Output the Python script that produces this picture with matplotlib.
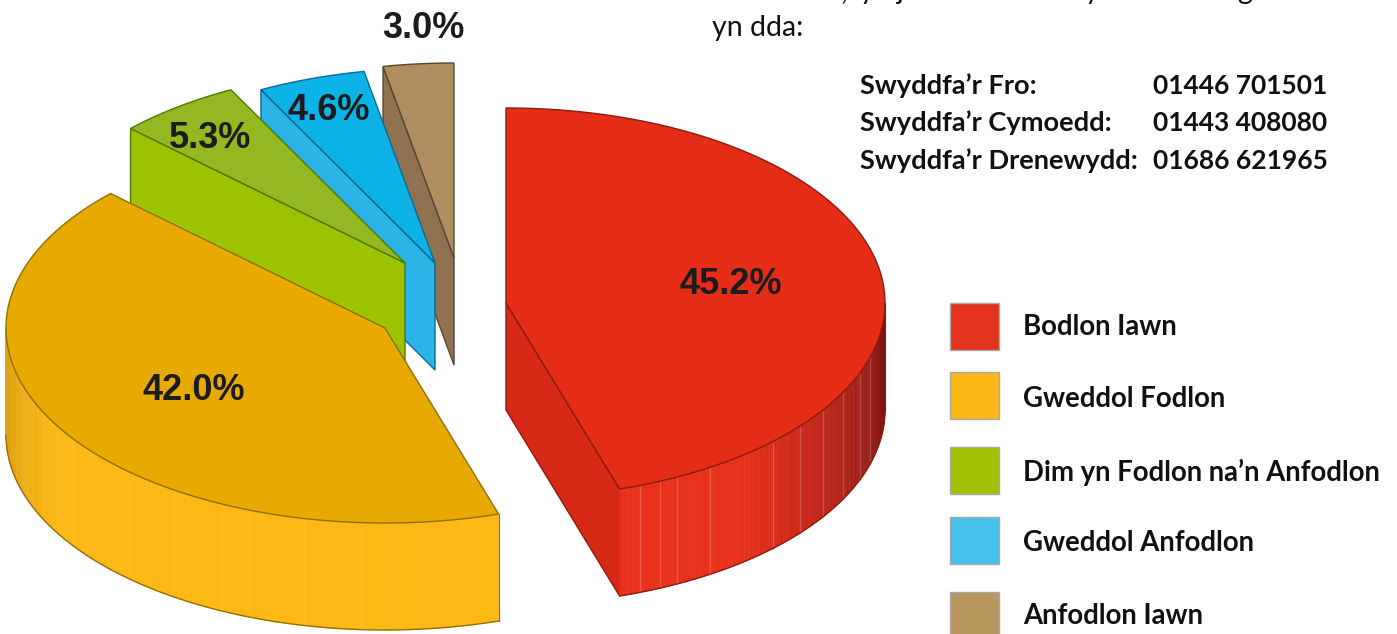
import matplotlib as mpl
mpl.use("Agg")
import matplotlib.pyplot as plt
from matplotlib.collections import PolyCollection
from matplotlib.colors import to_rgb
from matplotlib.patches import Polygon, Rectangle
import numpy as np

# data
categories = ["Bodlon Iawn", "Gweddol Fodlon", "Dim yn Fodlon na’n Anfodlon", "Gweddol Anfodlon", "Anfodlon Iawn"]
values = [45.2, 42.0, 5.3, 4.6, 3.0]
value_labels = ["45.2%", "42.0%", "5.3%", "4.6%", "3.0%"]
offices = ["Swyddfa’r Fro:", "Swyddfa’r Cymoedd:", "Swyddfa’r Drenewydd:"]
phones = ["01446 701501", "01443 408080", "01686 621965"]

# styling, everything in image pixels
W, H = 1397, 634
RX, RY, DEPTH = 379, 195, 107
centers = [(506, 303), (385, 328), (405, 263), (435, 263), (454, 258)]
label_pos = [(731, 285), (194, 390), (210, 138), (329, 111), (423, 29)]
label_size = [26, 26, 26, 26, 26]
top_colors = ["#E52D17", "#E8A900", "#93B822", "#0DB3E6", "#AE8E5F"]
side_colors = ["#E8301A", "#FDB813", "#9CC200", "#2CB4E8", "#8E7251"]
side_dark = ["#741212", "#D49C0C", "#9CC200", "#2CB4E8", "#8E7251"]
cut_colors = ["#D62A17", "#E8A900", "#9CC200", "#2CB4E8", "#8E7251"]
edge_colors = ["#8E1A10", "#8F7000", "#4F7A00", "#0A6A90", "#5A4630"]
swatch_colors = ["#E5321F", "#FBB713", "#A0C202", "#45C0EC", "#B8975F"]
swatch_y = [303, 372, 447, 517, 592]
legend_y = [327, 399, 472, 543, 616]
red_stripes = [159.3, 156, 153.2, 147.4, 135.3, 129.1, 123.3, 117.2, 110.9, 106.2]

plt.rcParams["font.family"] = "Lato"
fig = plt.figure(figsize=(W / 100, H / 100), dpi=100)
ax = fig.add_axes([0, 0, 1, 1])
ax.set_xlim(0, W)
ax.set_ylim(H, 0)
ax.axis("off")


def rim(c, deg):
    a = np.radians(deg)
    return c[0] + RX * np.sin(a), c[1] - RY * np.cos(a)


def cut_face(c, deg, color, edge, z):
    x, y = rim(c, deg)
    pts = [c, (x, y), (x, y + DEPTH), (c[0], c[1] + DEPTH)]
    ax.add_patch(Polygon(pts, closed=True, fc=color, ec=edge, lw=1, zorder=z))


cum = np.cumsum([0] + values) / sum(values) * 360

# back to front
for i in [4, 3, 2, 1, 0]:
    c = centers[i]
    start, end = cum[i], cum[i + 1]
    z = 2 * (5 - i)

    # cut faces that look towards the viewer
    if np.sin(np.radians(start)) < -0.01:
        cut_face(c, start, cut_colors[i], edge_colors[i], z)
    if np.sin(np.radians(end)) > 0.01:
        cut_face(c, end, cut_colors[i], edge_colors[i], z)

    # outer wall, only the front half shows
    lo, hi = max(start, 90), min(end, 270)
    if hi > lo:
        th = np.arange(lo, hi + 0.5, 0.5)
        th[-1] = hi
        xs, ys = rim(c, th)
        polys, cols = [], []
        bright = np.array(to_rgb(side_colors[i]))
        dark = np.array(to_rgb(side_dark[i]))
        for k in range(len(th) - 1):
            polys.append([(xs[k], ys[k]), (xs[k + 1], ys[k + 1]),
                          (xs[k + 1], ys[k + 1] + DEPTH), (xs[k], ys[k] + DEPTH)])
            mid = (th[k] + th[k + 1]) / 2
            if i == 0:
                t = np.clip((142 - mid) / 50, 0, 1)
            else:
                t = np.clip((mid - 240) / 30, 0, 1)
            cols.append(bright * (1 - t) + dark * t)
        ax.add_collection(PolyCollection(polys, facecolors=cols, edgecolors=cols, lw=0.4, zorder=z))

        # faint stripes on the wall
        stripes = red_stripes if i == 0 else np.arange(lo + 4, hi, 4.3)
        for s in stripes:
            sx, sy = rim(c, s)
            f = cols[int((s - lo) / 0.5)]
            ax.plot([sx, sx], [sy, sy + DEPTH], color=f + (1 - f) * (0.2 if i == 0 else 0.07),
                    lw=1, zorder=z, solid_capstyle="butt")
        ax.plot(xs, ys + DEPTH, color=edge_colors[i], lw=1, zorder=z)
        ax.plot([xs[0], xs[0]], [ys[0], ys[0] + DEPTH], color=edge_colors[i], lw=0.8, zorder=z)

    # top face
    th = np.linspace(start, end, 200)
    xs, ys = rim(c, th)
    pts = np.vstack([[c], np.column_stack([xs, ys])])
    ax.add_patch(Polygon(pts, closed=True, fc=top_colors[i], ec=edge_colors[i], lw=1, zorder=z + 0.5))

for i in range(5):
    ax.text(*label_pos[i], value_labels[i], family="Liberation Sans", weight="bold", fontsize=label_size[i],
            color="#1C1C1C", ha="center", va="center", zorder=30)

# legend
for i in range(5):
    ax.add_patch(Rectangle((950, swatch_y[i]), 49, 47, fc=swatch_colors[i], ec="#A8A8A8", lw=1, zorder=5))
    ax.text(1023, legend_y[i], categories[i], weight="bold", fontsize=19.8, color="#111111",
            ha="left", va="center")

# phone numbers
for yy, office, phone in zip([86, 123, 161], offices, phones):
    ax.text(860, yy, office, weight="bold", fontsize=19.6, color="#111111", ha="left", va="center")
    ax.text(1153, yy, phone, weight="bold", fontsize=19, color="#111111", ha="left", va="center")

ax.text(712, 28, "yn dda:", fontsize=20.5, color="#111111", ha="left", va="center")

# bottom of the previous line of body text, cut off by the page edge
for xx, ch in zip([844, 867, 900, 1092, 1245], [",", "y", "j", "y", "g"]):
    ax.text(xx, -1, ch, fontsize=20.5, color="#111111", ha="center", va="baseline", clip_on=True)

fig.savefig("out.png", dpi=100)
plt.close()
